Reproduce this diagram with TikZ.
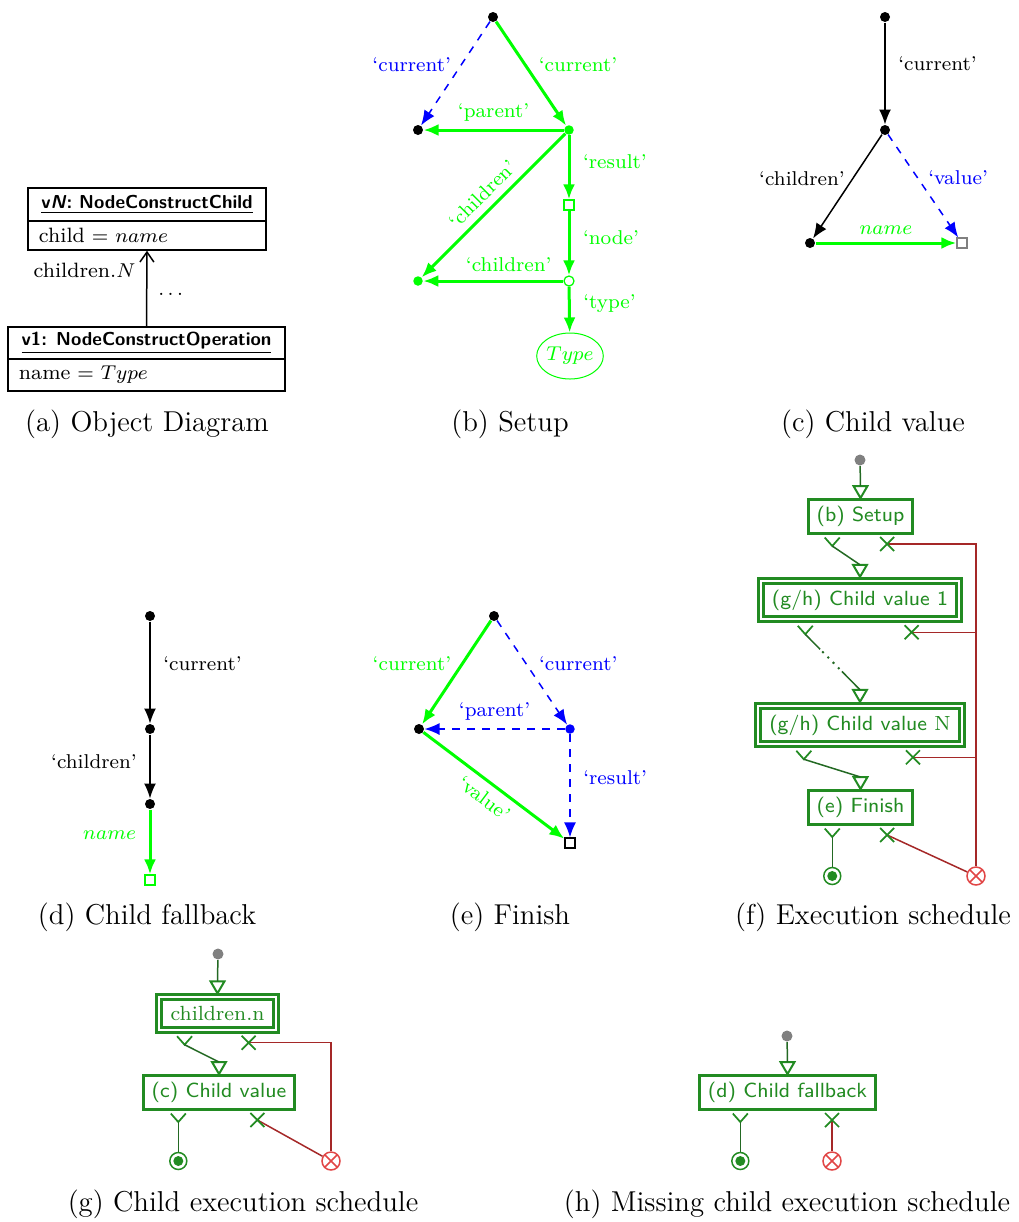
\documentclass[tikz,border=0pt]{standalone}
\usepackage{fontspec}
\usetikzlibrary{arrows.meta,calc,shapes.geometric}

\definecolor{fg}{RGB}{34,139,34}
\definecolor{okc}{RGB}{35,105,35}
\definecolor{failline}{RGB}{165,40,40}
\definecolor{failc}{RGB}{225,70,70}
\definecolor{startc}{RGB}{128,128,128}
\definecolor{sqgray}{RGB}{128,128,128}

% input port: open triangle on top of a step box, plus the two output ports below it
\newcommand\inport[1]{%
  \draw[inport] (#1.north) -- ++(-7,-12) -- ++(14,0) -- cycle;
  \coordinate (#1-in) at ($(#1.north)+(0,-12)$);
  \coordinate (#1-ok) at ($(#1.south west)!0.235!(#1.south east)$);
  \coordinate (#1-x) at ($(#1.south west)!0.75!(#1.south east)+(0,9)$);}
% success port: fork under the box, stem to the target
\newcommand\okstem[3][okline]{%
  \coordinate (okj) at ($(#2)+(0,11)$);
  \draw[okarm] ($(okj)+(-7.5,-8.5)$) -- (okj) -- ($(okj)+(7.5,-8.5)$);
  \draw[#1] (okj) -- (#3);}
% failure port: a cross below the box
\newcommand\failmark[1]{%
  \draw[failarm] ($(#1)+(-7,-7)$) -- ($(#1)+(7,7)$) ($(#1)+(-7,7)$) -- ($(#1)+(7,-7)$);}

\begin{document}
\begin{tikzpicture}[x=0.4pt,y=-0.4pt,
  lbl/.style={font=\fontsize{8}{9.6}\selectfont, inner sep=3pt},
  captext/.style={font=\fontsize{11.5}{14}\selectfont, inner sep=0pt},
  umltxt/.style={font=\fontsize{8.3}{10}\selectfont},
  umlhead/.style={draw, line width=0.6pt, inner sep=1pt,
    font=\fontsize{7.5}{9}\selectfont\sffamily\bfseries},
  umlbody/.style={draw, line width=0.6pt, inner xsep=4.4pt, inner ysep=1pt,
    align=left, font=\fontsize{8.3}{10}\selectfont},
  umlarrow/.style={line width=0.6pt, -{Straight Barb[length=4pt,width=5.6pt,line width=0.6pt]}},
  bdot/.style={circle, fill=black, inner sep=0pt, minimum size=4pt},
  gdot/.style={circle, fill=green, inner sep=0pt, minimum size=3.8pt},
  bldot/.style={circle, fill=blue, inner sep=0pt, minimum size=3.8pt},
  gsq/.style={rectangle, draw=green, line width=0.5pt, fill=white, inner sep=0pt, minimum size=4pt},
  graysq/.style={rectangle, draw=sqgray, line width=0.5pt, fill=white, inner sep=0pt, minimum size=4pt},
  ksq/.style={rectangle, draw=black, line width=0.5pt, fill=white, inner sep=0pt, minimum size=4pt},
  gcirc/.style={circle, draw=green, line width=0.5pt, fill=white, inner sep=0pt, minimum size=4pt},
  gell/.style={ellipse, draw=green, line width=0.4pt, text=green, inner sep=0pt,
    minimum width=26.4pt, minimum height=18.4pt, font=\fontsize{8.3}{10}\selectfont},
  tipstyle/.style={-{Latex[length=6pt,width=4.8pt]}},
  garrow/.style={draw=green, line width=1.2pt, tipstyle},
  karrow/.style={draw=black, line width=0.6pt, tipstyle},
  blarrow/.style={draw=blue, line width=0.6pt, dashed, tipstyle},
  stepbox/.style={draw=fg, line width=1.2pt, fill=white, text=fg, inner xsep=3.2pt,
    inner ysep=2.7pt, outer sep=0.6pt, text height=6.15pt, text depth=2.05pt,
    font=\fontsize{8.2}{9.8}\selectfont\sffamily},
  nestbox/.style={draw=fg, line width=1.2pt, double=white, double distance=0.8pt,
    fill=white, text=fg, inner xsep=4.5pt, inner ysep=3.6pt, outer sep=1.6pt,
    font=\fontsize{8.2}{9.8}\selectfont\sffamily},
  inport/.style={draw=fg, line width=0.8pt, fill=white},
  okarm/.style={draw=fg, line width=0.7pt},
  okline/.style={draw=okc, line width=0.6pt},
  failarm/.style={draw=fg, line width=0.7pt},
  faillink/.style={draw=failline, line width=0.6pt},
  startdot/.style={circle, fill=startc, inner sep=0pt, minimum size=4.4pt},
  finalnode/.style={circle, draw=fg, line width=0.6pt, inner sep=0pt, minimum size=6.8pt,
    path picture={\fill[fg] (path picture bounding box.center) circle (2pt);}},
  failnode/.style={circle, draw=failc, line width=0.6pt, inner sep=0pt, minimum size=7.2pt,
    path picture={\draw[failc, line width=0.6pt]
      (path picture bounding box.north west) -- (path picture bounding box.south east)
      (path picture bounding box.south west) -- (path picture bounding box.north east);}},
]
\useasboundingbox (0,0) rectangle (1019,1222);

% ---------------- (a) object diagram ----------------
\node[umlhead, minimum width=95.2pt, minimum height=13.2pt] (chead) at (147,204.5)
  {\underline{v\textit{N}: NodeConstructChild}};
\node[umlbody, text width=86.4pt, minimum height=11.6pt] (cbody) at (147,235.5)
  {child $=$ $name$};
\node[umlhead, minimum width=110.8pt, minimum height=12.8pt] (ohead) at (146.5,343)
  {\underline{v1: NodeConstructOperation}};
\node[umlbody, text width=102pt, minimum height=12.8pt] (obody) at (146.5,375)
  {name $=$ $Type$};
\draw[umlarrow] (ohead.north) -- (cbody.south)
  node[umltxt, pos=.74, anchor=east, xshift=-1pt] {children.$N$}
  node[umltxt, pos=.42, anchor=west, xshift=1pt] {$\ldots$};
\node[captext] (capa) at (147,424) {(a) Object Diagram};

% ---------------- (b) setup ----------------
\node[bdot] (b0) at (493,17) {};
\node[bdot] (bp) at (418,130) {};
\node[gdot] (bc) at (569,130) {};
\node[gsq] (br) at (569,205) {};
\node[gcirc] (bn) at (569,281) {};
\node[gdot] (bch) at (418,281) {};
\node[gell] (bt) at (570,356) {$Type$};
\draw[blarrow] (b0) -- (bp) node[lbl, text=blue, pos=.41, anchor=east, xshift=-1pt] {`current'};
\draw[garrow] (b0) -- (bc) node[lbl, text=green, pos=.41, anchor=west, xshift=2pt] {`current'};
\draw[garrow] (bc) -- (bp) node[lbl, text=green, midway, above] {`parent'};
\draw[garrow] (bc) -- (br) node[lbl, text=green, pos=.41, anchor=west, xshift=2pt] {`result'};
\draw[garrow] (br) -- (bn) node[lbl, text=green, pos=.41, anchor=west, xshift=2pt] {`node'};
\draw[garrow] (bn) -- (bch) node[lbl, text=green, pos=.39, above] {`children'};
\draw[garrow] (bc) -- (bch) node[lbl, text=green, midway, sloped, above] {`children'};
\draw[garrow] (bn) -- (bt) node[lbl, text=green, pos=.38, anchor=west, xshift=2pt] {`type'};
\node[captext] (capb) at (510,424) {(b) Setup};

% ---------------- (c) child value ----------------
\node[bdot] (c0) at (885,17) {};
\node[bdot] (c1) at (885,130) {};
\node[bdot] (c2) at (810,243) {};
\node[graysq] (c3) at (962,243) {};
\draw[karrow] (c0) -- (c1) node[lbl, pos=.4, anchor=west, xshift=2pt] {`current'};
\draw[karrow] (c1) -- (c2) node[lbl, pos=.42, anchor=east, xshift=0pt] {`children'};
\draw[blarrow] (c1) -- (c3) node[lbl, text=blue, pos=.42, anchor=west, xshift=1pt] {`value'};
\draw[garrow] (c2) -- (c3) node[lbl, text=green, midway, above] {$name$};
\node[captext] (capc) at (873,424) {(c) Child value};

% ---------------- (d) child fallback ----------------
\node[bdot] (d0) at (150,616) {};
\node[bdot] (d1) at (150,729) {};
\node[bdot] (d2) at (150,804) {};
\node[gsq] (d3) at (150,880) {};
\draw[karrow] (d0) -- (d1) node[lbl, pos=.41, anchor=west, xshift=2pt] {`current'};
\draw[karrow] (d1) -- (d2) node[lbl, pos=.42, anchor=east, xshift=-2pt] {`children'};
\draw[garrow] (d2) -- (d3) node[lbl, text=green, pos=.39, anchor=east, xshift=-2pt] {$name$};
\node[captext] (capd) at (147,917) {(d) Child fallback};

% ---------------- (e) finish ----------------
\node[bdot] (e0) at (494,616) {};
\node[bdot] (e1) at (419,729) {};
\node[bldot] (e2) at (570,729) {};
\node[ksq] (e3) at (570,843) {};
\draw[garrow] (e0) -- (e1) node[lbl, text=green, pos=.41, anchor=east, xshift=-1pt] {`current'};
\draw[blarrow] (e0) -- (e2) node[lbl, text=blue, pos=.41, anchor=west, xshift=2pt] {`current'};
\draw[blarrow] (e2) -- (e1) node[lbl, text=blue, midway, above] {`parent'};
\draw[blarrow] (e2) -- (e3) node[lbl, text=blue, pos=.42, anchor=west, xshift=2pt] {`result'};
\draw[garrow] (e1) -- (e3) node[lbl, text=green, midway, sloped, below] {`value'};
\node[captext] (cape) at (510,917) {(e) Finish};

% ---------------- (f) execution schedule ----------------
\node[startdot] (fs) at (860,460) {};
\node[stepbox] (fsetup) at (860.5,516.5) {(b) Setup};
\node[nestbox] (fcv1) at (860,600) {(g/h) Child value 1};
\node[nestbox] (fcvn) at (860,725) {(g/h) Child value \textrm{N}};
\node[stepbox] (ffin) at (860.5,807.5) {(e) Finish};
\inport{fsetup}
\inport{fcv1}
\inport{fcvn}
\inport{ffin}
\coordinate (fbase) at (0,876);
\node[finalnode] (fok) at (ffin-ok |- fbase) {};
\node[failnode] (ffail) at (976,876) {};
\draw[okline] (fs) -- (fsetup-in);
\draw[faillink] (fsetup-x) -| (ffail);
\draw[faillink] (fcv1-x) -| (ffail);
\draw[faillink] (fcvn-x) -| (ffail);
\draw[faillink] (ffin-x) -- (ffail);
\okstem{fsetup-ok}{fcv1-in}
\okstem[draw=none]{fcv1-ok}{fcvn-in}
\draw[okline] (okj) -- ($(okj)!0.27!(fcvn-in)$);
\draw[okline, line width=0.8pt, dash pattern=on 0.8pt off 2.2pt] ($(okj)!0.31!(fcvn-in)$) -- ($(okj)!0.63!(fcvn-in)$);
\draw[okline] ($(okj)!0.67!(fcvn-in)$) -- (fcvn-in);
\okstem{fcvn-ok}{ffin-in}
\okstem{ffin-ok}{fok}
\failmark{fsetup-x}
\failmark{fcv1-x}
\failmark{fcvn-x}
\failmark{ffin-x}
\node[captext] (capf) at (873,917) {(f) Execution schedule};

% ---------------- (g) child execution schedule ----------------
\node[startdot] (gs) at (218,954) {};
\node[nestbox, font=\fontsize{8.2}{9.8}\selectfont\rmfamily] (gch) at (217.5,1013.5) {children.n};
\node[stepbox] (gcv) at (219,1092.5) {(c) Child value};
\inport{gch}
\inport{gcv}
\coordinate (gbase) at (0,1161);
\node[finalnode] (gok) at (gcv-ok |- gbase) {};
\node[failnode] (gfail) at (331,1161) {};
\draw[okline] (gs) -- (gch-in);
\draw[faillink] (gch-x) -| (gfail);
\draw[faillink] (gcv-x) -- (gfail);
\okstem{gch-ok}{gcv-in}
\okstem{gcv-ok}{gok}
\failmark{gch-x}
\failmark{gcv-x}
\node[captext] (capg) at (243,1204) {(g) Child execution schedule};

% ---------------- (h) missing child execution schedule ----------------
\node[startdot] (hs) at (787,1036) {};
\node[stepbox] (hfb) at (787.5,1092.5) {(d) Child fallback};
\inport{hfb}
\coordinate (hbase) at (0,1161);
\node[finalnode] (hok) at (hfb-ok |- hbase) {};
\node[failnode] (hfail) at (hfb-x |- hbase) {};
\draw[okline] (hs) -- (hfb-in);
\draw[faillink] (hfb-x) -- (hfail);
\okstem{hfb-ok}{hok}
\failmark{hfb-x}
\node[captext] (caph) at (787,1204) {(h) Missing child execution schedule};
\end{tikzpicture}
\end{document}
